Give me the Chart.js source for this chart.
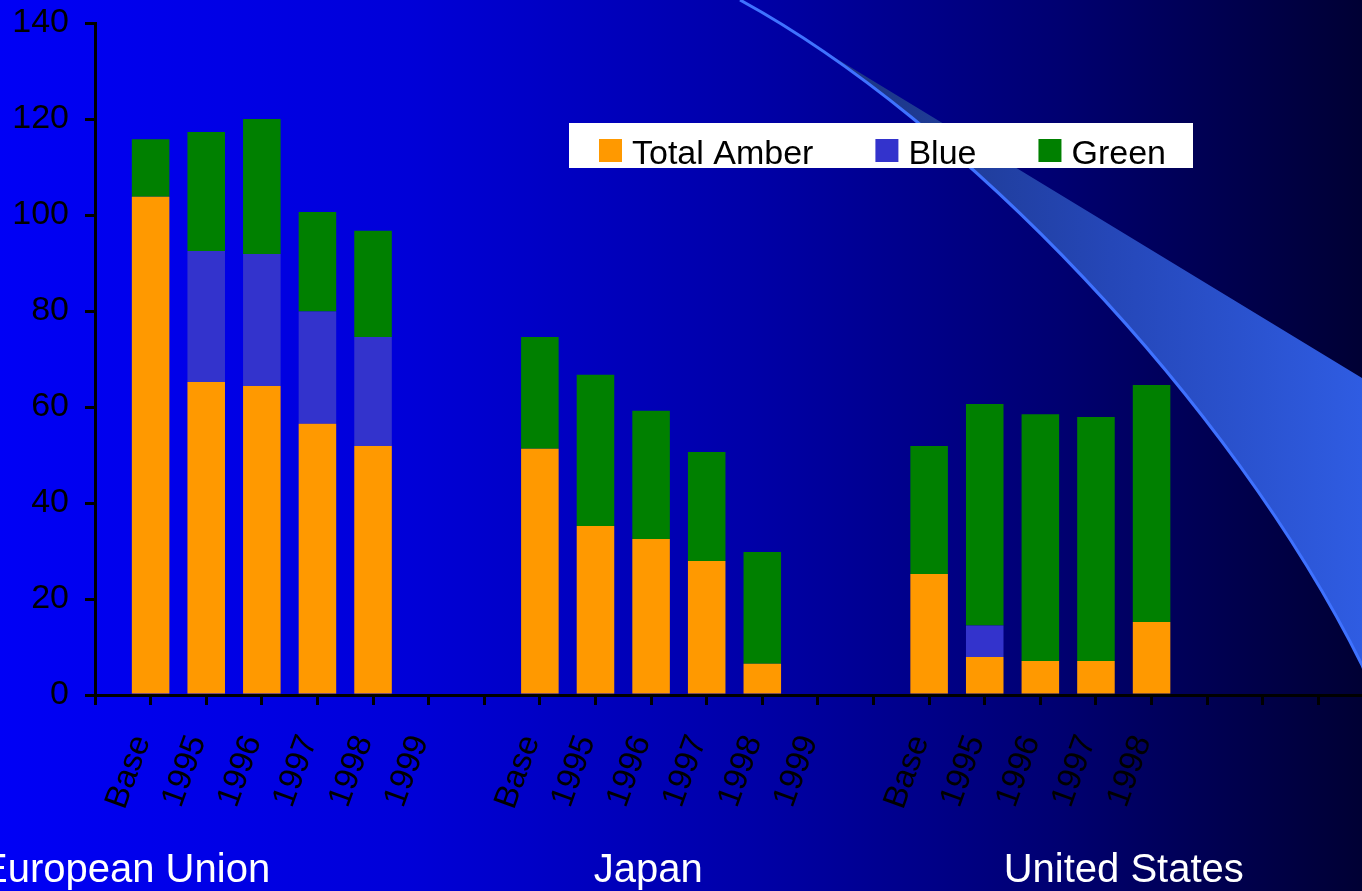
<!DOCTYPE html>
<html>
<head>
<meta charset="utf-8">
<title>Amber, Blue and Green box support</title>
<script src="https://cdn.jsdelivr.net/npm/chart.js@4"></script>
<style>
  html, body { margin: 0; padding: 0; background: #000033; }
  #wrap { width: 1362px; height: 891px; overflow: hidden; position: relative; }
  canvas { display: block; }
</style>
</head>
<body>
<div id="wrap"><canvas id="chart" width="1400" height="891"></canvas></div>
<script>
// one slot per category; blank slots separate the three economies
const categories = ['',
    'Base', '1995', '1996', '1997', '1998', '1999', '',
    'Base', '1995', '1996', '1997', '1998', '1999', '',
    'Base', '1995', '1996', '1997', '1998', '', '', '', ''];

const totalAmber = [null,
    103.8, 65.2, 64.4, 56.5, 51.9, null, null,
    51.3, 35.2, 32.5, 27.9, 6.5, null, null,
    25.2, 7.9, 7.1, 7.1, 15.2, null, null, null, null];

const blueBox = [null,
    0, 27.3, 27.5, 23.4, 22.7, null, null,
    0, 0, 0, 0, 0, null, null,
    0, 6.6, 0, 0, 0, null, null, null, null];

const greenBox = [null,
    12.0, 24.8, 28.1, 20.7, 22.1, null, null,
    23.3, 31.5, 26.7, 22.7, 23.3, null, null,
    26.7, 46.1, 51.4, 50.8, 49.4, null, null, null, null];

const yTicks = [0, 20, 40, 60, 80, 100, 120, 140];

const groupNames = ['European Union', 'Japan', 'United States'];

const FONT = '"Liberation Sans", Arial, Helvetica, sans-serif';
Chart.defaults.font.family = FONT;

// slide background: blue fading to navy, with the light swoosh on the right
const backdrop = {
    id: 'backdrop',
    beforeDraw(chart) {
        const ctx = chart.ctx;
        const h = chart.height;
        ctx.save();
        const bg = ctx.createLinearGradient(0, 0, 1362, 0);
        bg.addColorStop(0, '#0000f6');
        bg.addColorStop(0.3, '#0000d8');
        bg.addColorStop(0.55, '#0000a8');
        bg.addColorStop(0.78, '#000070');
        bg.addColorStop(1, '#000034');
        ctx.fillStyle = bg;
        ctx.fillRect(0, 0, chart.width, h);

        // swoosh band
        ctx.beginPath();
        ctx.moveTo(740, 0);
        ctx.lineTo(1362, 378);
        ctx.lineTo(1400, 401);
        ctx.lineTo(1400, 760);
        ctx.lineTo(1362, 665);
        ctx.bezierCurveTo(1230, 400, 960, 120, 740, 0);
        ctx.closePath();
        const band = ctx.createLinearGradient(860, 0, 1362, 0);
        band.addColorStop(0, '#1c3686');
        band.addColorStop(0.5, '#2547b8');
        band.addColorStop(1, '#2f5ce2');
        ctx.fillStyle = band;
        ctx.fill();

        // bright rim along the curve
        ctx.beginPath();
        ctx.moveTo(740, 0);
        ctx.bezierCurveTo(960, 120, 1230, 400, 1362, 665);
        ctx.lineTo(1400, 760);
        ctx.strokeStyle = '#3f72ff';
        ctx.lineWidth = 3;
        ctx.stroke();
        ctx.restore();
    }
};

// white legend strip drawn from the datasets
const legendStrip = {
    id: 'legendStrip',
    afterDraw(chart) {
        const ctx = chart.ctx;
        ctx.save();
        ctx.fillStyle = '#ffffff';
        ctx.fillRect(569, 123, 624, 45);
        ctx.font = '34px ' + FONT;
        ctx.textBaseline = 'alphabetic';
        let x = 599;
        chart.data.datasets.forEach(ds => {
            ctx.fillStyle = ds.backgroundColor;
            ctx.fillRect(x, 139, 23, 23);
            ctx.fillStyle = '#000000';
            ctx.fillText(ds.label, x + 33, 164);
            x += 33 + ctx.measureText(ds.label).width + 62;
        });
        ctx.restore();
    }
};

// economy names under the year labels
const groupTitles = {
    id: 'groupTitles',
    afterDraw(chart) {
        const ctx = chart.ctx;
        const xs = chart.scales.x;
        const at = [0.55, 9.95, 18.5];
        ctx.save();
        ctx.font = '40px ' + FONT;
        ctx.fillStyle = '#ffffff';
        ctx.textAlign = 'center';
        ctx.textBaseline = 'alphabetic';
        groupNames.forEach((name, i) => {
            ctx.fillText(name, xs.getPixelForValue(at[i]), 882);
        });
        ctx.restore();
    }
};

new Chart(document.getElementById('chart'), {
    type: 'bar',
    data: {
        labels: categories,
        datasets: [
            { label: 'Total Amber', data: totalAmber, backgroundColor: '#ff9900' },
            { label: 'Blue', data: blueBox, backgroundColor: '#3333cc' },
            { label: 'Green', data: greenBox, backgroundColor: '#008000' }
        ]
    },
    options: {
        responsive: false,
        animation: false,
        devicePixelRatio: 1,
        layout: { padding: { left: 0, top: 23, right: 26, bottom: 0 } },
        datasets: {
            bar: { barPercentage: 0.675, categoryPercentage: 1.0, borderWidth: 0 }
        },
        plugins: {
            legend: { display: false },
            tooltip: { enabled: false }
        },
        scales: {
            x: {
                stacked: true,
                offset: false,
                border: { display: true, color: '#000000', width: 3 },
                grid: {
                    offset: false,
                    drawOnChartArea: false,
                    drawTicks: true,
                    tickLength: 10,
                    color: '#000000',
                    lineWidth: 3
                },
                ticks: {
                    autoSkip: false,
                    minRotation: 70,
                    maxRotation: 70,
                    padding: 25,
                    labelOffset: -9,
                    color: '#000000',
                    font: { size: 33 }
                },
                afterFit(scale) {
                    scale.height = 196;
                    scale.paddingLeft = 0;
                    scale.paddingRight = 0;
                }
            },
            y: {
                stacked: true,
                min: 0,
                max: 140,
                border: { display: true, color: '#000000', width: 3 },
                grid: {
                    drawOnChartArea: false,
                    drawTicks: true,
                    tickLength: 10,
                    color: '#000000',
                    lineWidth: 3
                },
                ticks: {
                    padding: 16,
                    color: '#000000',
                    font: { size: 34 }
                },
                afterBuildTicks(scale) {
                    scale.ticks = yTicks.map(v => ({ value: v }));
                },
                afterFit(scale) {
                    scale.width = 95;
                    scale.paddingTop = 0;
                    scale.paddingBottom = 0;
                }
            }
        }
    },
    plugins: [backdrop, legendStrip, groupTitles]
});
</script>
</body>
</html>
